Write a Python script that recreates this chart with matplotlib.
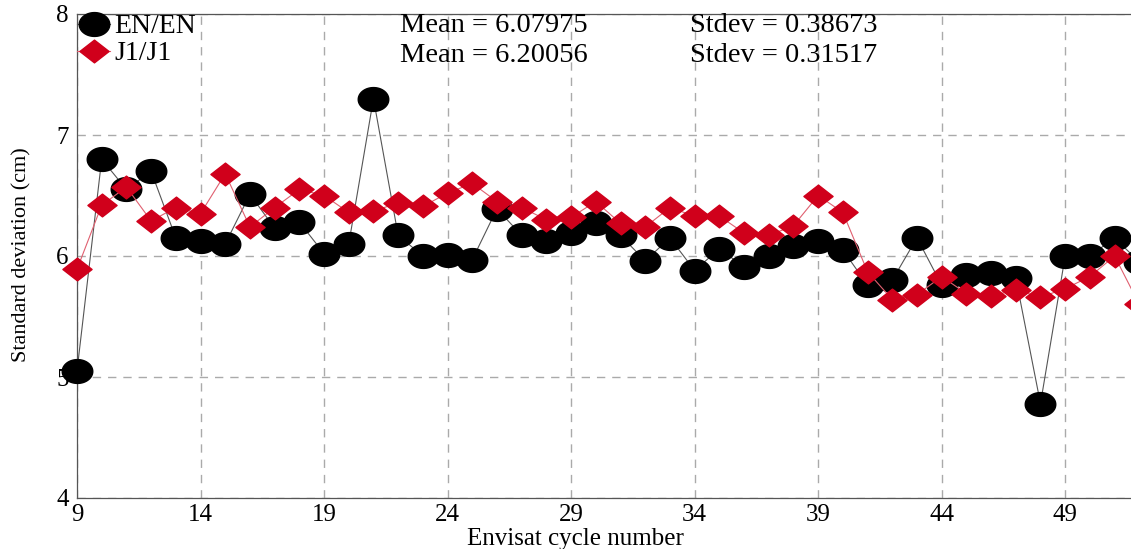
import numpy as np
import matplotlib
matplotlib.use("Agg")
import matplotlib.pyplot as plt
from matplotlib.path import Path

# --- data ---
cycles = list(range(9, 53))
en_en = [5.05, 6.80, 6.55, 6.70, 6.15, 6.12, 6.10, 6.51, 6.23, 6.28,
         6.02, 6.10, 7.30, 6.17, 6.00, 6.01, 5.97, 6.39, 6.17, 6.12,
         6.19, 6.27, 6.17, 5.96, 6.15, 5.88, 6.06, 5.91, 6.00, 6.08,
         6.12, 6.05, 5.76, 5.80, 6.15, 5.76, 5.84, 5.86, 5.82, 4.78,
         6.00, 6.00, 6.15, 5.95]
j1_j1 = [5.89, 6.42, 6.57, 6.29, 6.40, 6.35, 6.68, 6.24, 6.40, 6.55,
         6.50, 6.36, 6.37, 6.44, 6.41, 6.52, 6.60, 6.45, 6.40, 6.30,
         6.32, 6.45, 6.27, 6.24, 6.40, 6.33, 6.33, 6.19, 6.17, 6.25,
         6.50, 6.36, 5.87, 5.64, 5.68, 5.83, 5.69, 5.67, 5.72, 5.66,
         5.73, 5.83, 6.00, 5.60]
x_ticks = [9, 14, 19, 24, 29, 34, 39, 44, 49]
y_ticks = [4, 5, 6, 7, 8]
stats_en = ("Mean = 6.07975", "Stdev = 0.38673")
stats_j1 = ("Mean = 6.20056", "Stdev = 0.31517")

plt.rcParams['font.family'] = ['Liberation Serif', 'DejaVu Serif']
FS = 18

# flattened markers (the original picture is stretched sideways)
t = np.linspace(0, 2 * np.pi, 60)
ellipse = Path(np.column_stack([np.cos(t), 0.78 * np.sin(t)]), closed=True)
diamond = Path([(-1, 0), (0, 0.78), (1, 0), (0, -0.78), (-1, 0)], closed=True)

W, H = 1131, 549
fig = plt.figure(figsize=(W / 100, H / 100), dpi=100)
ax = fig.add_axes([77 / W, 51 / H, 1087 / W, 484 / H])

ax.plot(cycles, en_en, color='#555555', lw=0.8, marker=ellipse, ms=22,
        mfc='black', mec='black', label='EN/EN', zorder=3, clip_on=False)
ax.plot(cycles, j1_j1, color='#e06070', lw=0.8, marker=diamond, ms=21,
        mfc='#d0001b', mec='#d0001b', label='J1/J1', zorder=4, clip_on=False)

ax.set_xlim(9, 53)
ax.set_ylim(4, 8)
ax.set_xticks(x_ticks)
ax.set_yticks(y_ticks)
ax.grid(True, ls=(0, (6, 5)), color='#aaaaaa', lw=1.0)
ax.tick_params(length=0, labelsize=FS, colors='black')
ax.tick_params(axis='x', pad=4)
ax.tick_params(axis='y', pad=6)
for s in ax.spines.values():
    s.set_color('#555555')
    s.set_linewidth(0.9)

leg = ax.legend(loc='upper left', frameon=False, fontsize=20,
                handlelength=1.2, handletextpad=0.15, borderaxespad=0.0,
                borderpad=0.0, labelspacing=0.05, markerscale=1.0)

def put(px, py, s, **kw):
    fig.text(px / W, 1 - py / H, s, va='center', **kw)

put(400, 26, stats_en[0], fontsize=20.5)
put(690, 26, stats_en[1], fontsize=20.5)
put(400, 55, stats_j1[0], fontsize=20.5)
put(690, 55, stats_j1[1], fontsize=20.5)

# axis titles placed by hand (the x title is off-centre in the original)
put(575, 539, 'Envisat cycle number', fontsize=18, ha='center')
put(22, 255, 'Standard deviation (cm)', fontsize=16, ha='center',
    rotation=90, rotation_mode='anchor')

fig.savefig('out.png', dpi=100)
